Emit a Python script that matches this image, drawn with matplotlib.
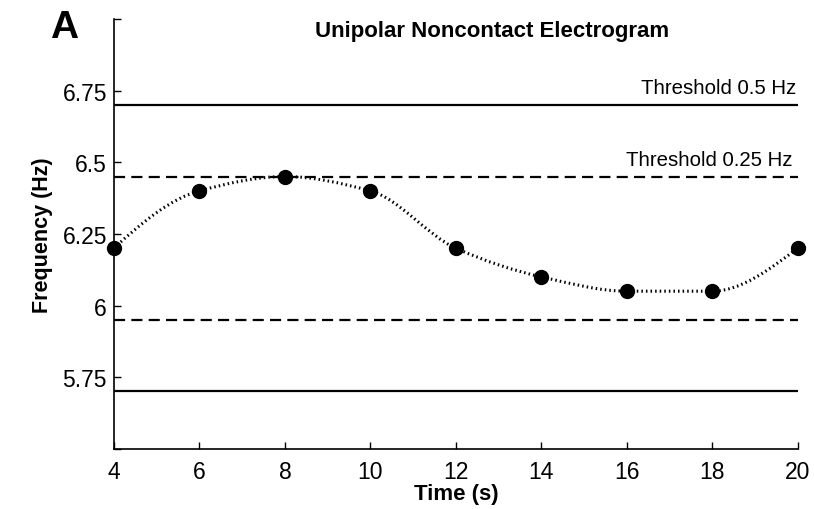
import matplotlib

matplotlib.use("Agg")
import matplotlib.pyplot as plt
import numpy as np
from matplotlib.patches import PathPatch
from matplotlib.path import Path

plt.rcParams["font.family"] = ["Liberation Sans", "DejaVu Sans"]

# data
time_s = [4, 6, 8, 10, 12, 14, 16, 18, 20]
freq_hz = [6.2, 6.4, 6.45, 6.4, 6.2, 6.1, 6.05, 6.05, 6.2]
thr_outer = [5.7, 6.7]      # +-0.5 Hz around 6.2
thr_inner = [5.95, 6.45]    # +-0.25 Hz
y_ticks = [5.5, 5.75, 6.0, 6.25, 6.5, 6.75, 7.0]
y_labels = ["", "5.75", "6", "6.25", "6.5", "6.75", ""]
x_ticks = [4, 6, 8, 10, 12, 14, 16, 18, 20]


def pchip_slopes(x, y):
    """shape-preserving slopes (Fritsch-Carlson), like MATLAB pchip."""
    x = np.asarray(x, float)
    y = np.asarray(y, float)
    h = np.diff(x)
    d = np.diff(y) / h
    m = np.zeros_like(y)
    for k in range(1, len(y) - 1):
        if d[k - 1] * d[k] > 0:
            w1 = 2 * h[k] + h[k - 1]
            w2 = h[k] + 2 * h[k - 1]
            m[k] = (w1 + w2) / (w1 / d[k - 1] + w2 / d[k])

    def end(h0, h1, d0, d1):
        s = ((2 * h0 + h1) * d0 - h0 * d1) / (h0 + h1)
        if np.sign(s) != np.sign(d0):
            return 0.0
        if np.sign(d0) != np.sign(d1) and abs(s) > abs(3 * d0):
            return 3 * d0
        return s

    m[0] = end(h[0], h[1], d[0], d[1])
    m[-1] = end(h[-1], h[-2], d[-1], d[-2])
    return m


def hermite_path(x, y):
    """cubic hermite segments as bezier curves, drawn by matplotlib."""
    m = pchip_slopes(x, y)
    verts = [(x[0], y[0])]
    codes = [Path.MOVETO]
    for i in range(len(x) - 1):
        h = x[i + 1] - x[i]
        verts += [(x[i] + h / 3, y[i] + m[i] * h / 3),
                  (x[i + 1] - h / 3, y[i + 1] - m[i + 1] * h / 3),
                  (x[i + 1], y[i + 1])]
        codes += [Path.CURVE4] * 3
    return Path(verts, codes)


fig = plt.figure(figsize=(8.14, 5.10), dpi=100)
ax = fig.add_axes([0.140, 0.118, 0.840, 0.843])

for yv in thr_outer:
    ax.axhline(yv, color="black", lw=1.6)
for yv in thr_inner:
    ax.axhline(yv, color="black", lw=1.6, dashes=(5.0, 2.8))

ax.add_patch(PathPatch(hermite_path(time_s, freq_hz), fill=False,
                       edgecolor="black", lw=2.2, linestyle=(0, (0.5, 1.0))))
ax.plot(time_s, freq_hz, "o", color="black", ms=10, clip_on=False, zorder=5)

ax.annotate("Threshold 0.5 Hz", (20, thr_outer[1]), xytext=(-1, 5.5),
            textcoords="offset points", ha="right", va="bottom", fontsize=14.7)
ax.annotate("Threshold 0.25 Hz", (20, thr_inner[1]), xytext=(-4, 5.5),
            textcoords="offset points", ha="right", va="bottom", fontsize=14.7)

ax.set_xlim(4, 20)
ax.set_ylim(5.5, 7.0)
ax.set_xticks(x_ticks)
ax.set_yticks(y_ticks)
ax.set_yticklabels(y_labels)
ax.tick_params(direction="in", length=5, width=1, labelsize=16.5)
ax.tick_params(axis="x", pad=8)
ax.tick_params(axis="y", pad=5)
for side in ("top", "right"):
    ax.spines[side].set_visible(False)
for side in ("left", "bottom"):
    ax.spines[side].set_linewidth(1.2)

ax.set_xlabel("Time (s)", fontsize=16, fontweight="bold", labelpad=0)
ax.set_ylabel("Frequency (Hz)", fontsize=15.5, fontweight="bold", labelpad=7)
fig.text(0.605, 0.927, "Unipolar Noncontact Electrogram", ha="center",
         va="baseline", fontsize=16, fontweight="bold")
fig.text(0.061, 0.925, "A", ha="left", va="baseline", fontsize=28,
         fontweight="bold")

fig.savefig("out.png", dpi=100)
